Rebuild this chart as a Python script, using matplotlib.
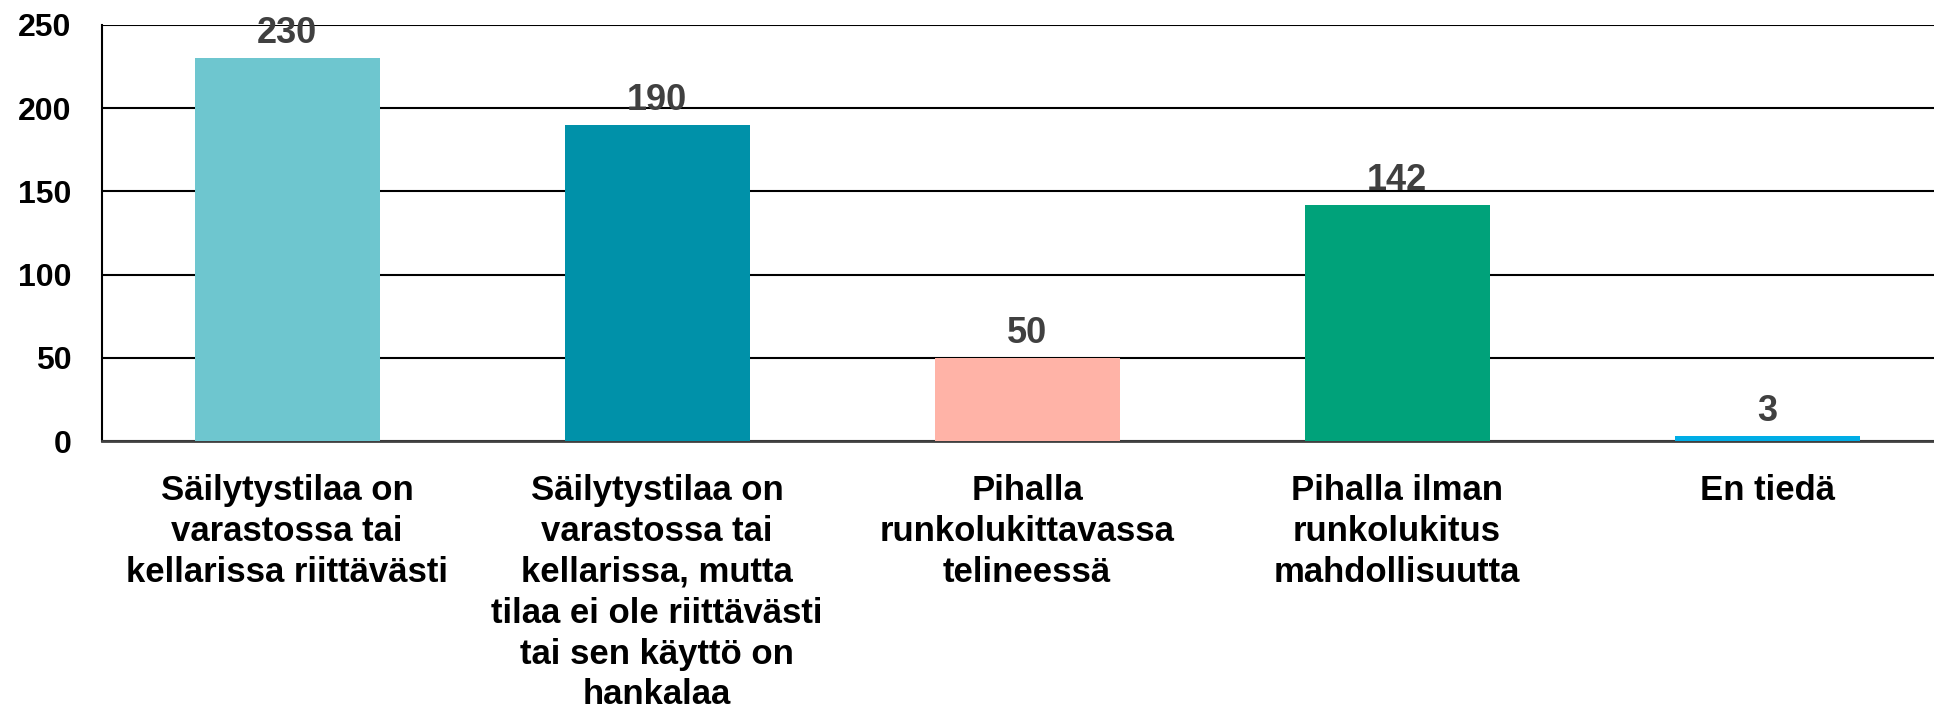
import matplotlib
matplotlib.use('Agg')
import matplotlib.pyplot as plt

categories = [
    'Säilytystilaa on\nvarastossa tai\nkellarissa riittävästi',
    'Säilytystilaa on\nvarastossa tai\nkellarissa, mutta\ntilaa ei ole riittävästi\ntai sen käyttö on\nhankalaa',
    'Pihalla\nrunkolukittavassa\ntelineessä',
    'Pihalla ilman\nrunkolukitus\nmahdollisuutta',
    'En tiedä',
]
values = [230, 190, 50, 142, 3]
colors = ['#6EC6CF', '#0091A9', '#FFB3A7', '#00A27A', '#00ADE6']
yticks = [0, 50, 100, 150, 200, 250]

plt.rcParams['font.family'] = ['Liberation Sans', 'DejaVu Sans']

fig = plt.figure(figsize=(19.34, 7.18), dpi=100)
# plot area runs out to the right edge of the figure
ax = fig.add_axes([102 / 1934, 1 - 441 / 718, 1832 / 1934, 416 / 718])

x = range(len(categories))
bars = ax.bar(x, values, width=0.5, color=colors, zorder=3)

for b, v in zip(bars, values):
    ax.annotate(str(v), (b.get_x() + b.get_width() / 2, v), xytext=(0, 5),
                textcoords='offset points', ha='center', va='bottom',
                fontsize=26, color='#404040', fontweight='bold',
                family=['Liberation Sans Narrow', 'Liberation Sans'], zorder=4)

ax.set_ylim(0, 250)
ax.set_xlim(-0.5, -0.5 + 1832 / 370)
ax.set_yticks(yticks)
ax.set_yticklabels([str(t) for t in yticks], fontsize=23, fontweight='bold')
ax.set_xticks(list(x))
ax.set_xticklabels(categories, fontsize=25, fontweight='bold', linespacing=1.3, va='top')
ax.tick_params(axis='both', length=0)
ax.tick_params(axis='x', pad=24)
ax.tick_params(axis='y', pad=22)

ax.yaxis.grid(True, color='black', linewidth=1.5, zorder=0)
ax.set_axisbelow(True)
for s in ['top', 'right']:
    ax.spines[s].set_visible(False)
ax.spines['left'].set_color('black')
ax.spines['left'].set_linewidth(1.5)
ax.spines['bottom'].set_color('#404040')
ax.spines['bottom'].set_linewidth(2)

fig.savefig('out.png', dpi=100)
